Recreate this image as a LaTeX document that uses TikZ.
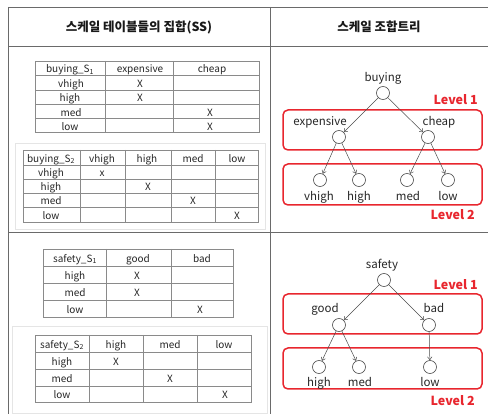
\documentclass[tikz,border=0pt]{standalone}
\usepackage{fontspec}
\setmainfont{Noto Sans CJK KR}
\usetikzlibrary{arrows.meta}
\definecolor{lvred}{HTML}{E8262E}
\definecolor{framec}{HTML}{6A6A6A}
\definecolor{tline}{HTML}{8A8A8A}
\begin{document}
\begin{tikzpicture}[x=1pt,y=-1pt,
  outer/.style={draw=framec, line width=0.9pt},
  tbl/.style={draw=tline, line width=0.7pt},
  faint/.style={draw=black!10, line width=0.6pt},
  cell/.style={font=\fontsize{10}{11}\selectfont, text=black!85, inner sep=0, text height=7.2pt, text depth=2.2pt, yshift=-2.3pt},
  hdr/.style={font=\fontsize{12.5}{14}\selectfont\bfseries, text=black!90, inner sep=0, yshift=-1pt},
  lab/.style={font=\fontsize{11.5}{12}\selectfont, text=black!85, inner sep=0, text height=8.4pt, text depth=2.6pt, yshift=-2.5pt},
  vtx/.style={circle, draw=black!70, line width=0.6pt, minimum size=13pt, inner sep=0},
  arr/.style={draw=black!70, line width=0.5pt, -{Straight Barb[length=3pt,width=4.5pt]}},
  lvbox/.style={draw=lvred, line width=1.5pt, rounded corners=5pt},
  lvtxt/.style={text=lvred, font=\fontsize{12.5}{14}\selectfont\bfseries, anchor=east, inner sep=0, yshift=-1pt}]
\useasboundingbox (0,0) rectangle (488,414);
% outer frame
\draw[outer] (8,7) -- (488,7);
\draw[outer] (8,46) -- (488,46);
\draw[outer] (8,232) -- (488,232);
\draw[outer] (8,7) -- (8,414);
\draw[outer] (270,7) -- (270,414);
\node[hdr] (h1) at (139,26) {스케일 테이블들의 집합(SS)};
\node[hdr] (h2) at (379,26) {스케일 조합트리};

% faint frames
\draw[faint] (15,143) rectangle (265,229);
\draw[faint] (12,326) rectangle (267,413);

% Table 1
\draw[tbl] (35,61) rectangle (259,132.5);
\foreach \x in {105,173} \draw[tbl] (\x,61) -- (\x,132.5);
\foreach \y in {75.5,90,104.5,118.5} \draw[tbl] (35,\y) -- (259,\y);
\node[cell] (a00) at (70,68) {buying\_S\textsubscript{1}};
\node[cell] (a01) at (140,68) {expensive};
\node[cell] (a02) at (212,68) {cheap};
\node[cell] (a10) at (71,82.5) {vhigh};
\node[cell] (a20) at (70,97) {high};
\node[cell] (a30) at (71,111.5) {med};
\node[cell] (a40) at (70,125.5) {low};
\node[cell] (a11) at (140,82.5) {X};
\node[cell] (a21) at (140,97) {X};
\node[cell] (a32) at (210,111.5) {X};
\node[cell] (a42) at (210,125.5) {X};

% Table 2
\draw[tbl] (23,150) rectangle (258,222);
\foreach \x in {80,125,171,215} \draw[tbl] (\x,150) -- (\x,222);
\foreach \y in {165,179,193,207} \draw[tbl] (23,\y) -- (258,\y);
\node[cell] (b00) at (51,157.5) {buying\_S\textsubscript{2}};
\node[cell] (b01) at (102,157.5) {vhigh};
\node[cell] (b02) at (147,157.5) {high};
\node[cell] (b03) at (193,157.5) {med};
\node[cell] (b04) at (237,157.5) {low};
\node[cell] (b10) at (51,172) {vhigh};
\node[cell] (b20) at (51,186) {high};
\node[cell] (b30) at (51,200) {med};
\node[cell] (b40) at (51,214.5) {low};
\node[cell] (b11) at (102,172) {x};
\node[cell] (b22) at (148,186) {X};
\node[cell] (b33) at (193,200) {X};
\node[cell] (b44) at (237,214.5) {X};

% Table 3
\draw[tbl] (43,249) rectangle (233,317);
\foreach \x in {106,171} \draw[tbl] (\x,249) -- (\x,317);
\foreach \y in {266,283,300} \draw[tbl] (43,\y) -- (233,\y);
\node[cell] (c00) at (75,257.5) {safety\_S\textsubscript{1}};
\node[cell] (c01) at (138,257.5) {good};
\node[cell] (c02) at (202,257.5) {bad};
\node[cell] (c10) at (75,274.5) {high};
\node[cell] (c20) at (75,291.5) {med};
\node[cell] (c30) at (75,308.5) {low};
\node[cell] (c11) at (137,274.5) {X};
\node[cell] (c21) at (137,291.5) {X};
\node[cell] (c32) at (200,308.5) {X};

% Table 4
\draw[tbl] (35,335) rectangle (251,402);
\foreach \x in {89,143,197} \draw[tbl] (\x,335) -- (\x,402);
\foreach \y in {352,369,386} \draw[tbl] (35,\y) -- (251,\y);
\node[cell] (d00) at (62,343.5) {safety\_S\textsubscript{2}};
\node[cell] (d01) at (116,343.5) {high};
\node[cell] (d02) at (170,343.5) {med};
\node[cell] (d03) at (224,343.5) {low};
\node[cell] (d10) at (62,360.5) {high};
\node[cell] (d20) at (62,377.5) {med};
\node[cell] (d30) at (62,394) {low};
\node[cell] (d11) at (116,360.5) {X};
\node[cell] (d22) at (170,377.5) {X};
\node[cell] (d33) at (225,394) {X};

% Tree 1
\draw[lvbox] (283,110) rectangle (482,150);
\draw[lvbox] (283,164) rectangle (482,205);
\node[lvtxt] (l11) at (478,99) {Level 1};
\node[lvtxt] (l12) at (475,214) {Level 2};
\node[vtx] (r1) at (383,93) {};
\node[vtx] (e1) at (339,137) {};
\node[vtx] (ch1) at (428,137) {};
\node[vtx] (vh1) at (320,180) {};
\node[vtx] (hi1) at (359,180) {};
\node[vtx] (me1) at (407,180) {};
\node[vtx] (lo1) at (448,180) {};
\node[lab] (tr1) at (383,76) {buying};
\node[lab] (te1) at (320,120) {expensive};
\node[lab] (tc1) at (439,120) {cheap};
\node[lab] (tvh1) at (319,195) {vhigh};
\node[lab] (thi1) at (359,195) {high};
\node[lab] (tme1) at (408,195) {med};
\node[lab] (tlo1) at (448,195) {low};
\draw[arr] (r1) -- (e1);
\draw[arr] (r1) -- (ch1);
\draw[arr] (e1) -- (vh1);
\draw[arr] (e1) -- (hi1);
\draw[arr] (ch1) -- (me1);
\draw[arr] (ch1) -- (lo1);

% Tree 2
\draw[lvbox] (283,294) rectangle (482,334);
\draw[lvbox] (283,348) rectangle (482,389);
\node[lvtxt] (l21) at (478,284) {Level 1};
\node[lvtxt] (l22) at (475,400) {Level 2};
\node[vtx] (r2) at (384,280) {};
\node[vtx] (g2) at (339,325) {};
\node[vtx] (b2) at (429,325) {};
\node[vtx] (hi2) at (319,367) {};
\node[vtx] (me2) at (359,367) {};
\node[vtx] (lo2) at (430,367) {};
\node[lab] (tr2) at (382,263) {safety};
\node[lab] (tg2) at (325,307) {good};
\node[lab] (tb2) at (434,307) {bad};
\node[lab] (thi2) at (319,381) {high};
\node[lab] (tme2) at (360,381) {med};
\node[lab] (tlo2) at (430,381) {low};
\draw[arr] (r2) -- (g2);
\draw[arr] (r2) -- (b2);
\draw[arr] (g2) -- (hi2);
\draw[arr] (g2) -- (me2);
\draw[arr] (b2) -- (lo2);
\end{tikzpicture}
\end{document}
